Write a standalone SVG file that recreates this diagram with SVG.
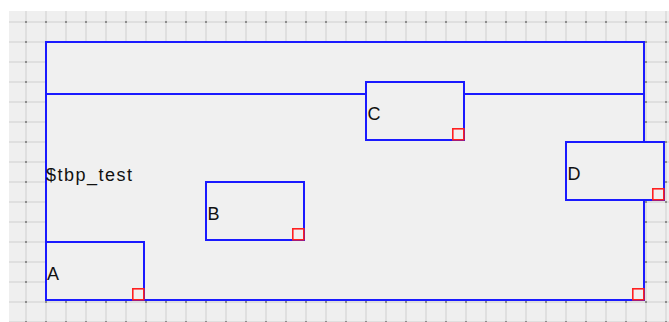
<svg xmlns="http://www.w3.org/2000/svg" width="669" height="322" viewBox="0 0 669 322">
  <defs>
    <pattern id="grid" patternUnits="userSpaceOnUse" x="16" y="12" width="20" height="20">
      <rect width="20" height="20" fill="#efefef"/>
      <line x1="10" y1="0" x2="10" y2="20" stroke="#dadada" stroke-width="1.5"/>
      <line x1="0" y1="10" x2="20" y2="10" stroke="#dadada" stroke-width="1.5"/>
      <rect x="9" y="9" width="2" height="2" fill="#8c8c8c"/>
    </pattern>
    <style>
      .frame { fill: #f0f0f0; stroke: #1a1aff; stroke-width: 2; }
      .wire { fill: none; stroke: #1a1aff; stroke-width: 2; }
      .port { fill: none; stroke: #ff2020; stroke-width: 1.6; }
      .label { font-family: "Liberation Sans", Arial, sans-serif; font-size: 18px; fill: #111; }
    </style>
  </defs>

  <!-- canvas -->
  <rect x="0" y="0" width="669" height="322" fill="#ffffff"/>
  <rect x="9" y="11" width="660" height="311" fill="url(#grid)"/>

  <!-- container -->
  <g id="tbp_test">
    <rect class="frame" x="46" y="42" width="598" height="258"/>
    <text class="label" x="46" y="181" textLength="86" lengthAdjust="spacing">$tbp_test</text>
    <rect class="port" x="632.8" y="288.8" width="11" height="11"/>
  </g>

  <!-- connectors -->
  <g id="connectors">
    <line class="wire" x1="46" y1="94" x2="366" y2="94"/>
    <line class="wire" x1="464" y1="94" x2="644" y2="94"/>
  </g>

  <g id="A">
    <rect class="frame" x="46" y="242" width="98" height="58"/>
    <text class="label" x="47" y="280">A</text>
    <rect class="port" x="132.8" y="288.8" width="11" height="11"/>
  </g>

  <g id="B">
    <rect class="frame" x="206" y="182" width="98" height="58"/>
    <text class="label" x="207.5" y="220">B</text>
    <rect class="port" x="292.8" y="228.8" width="11" height="11"/>
  </g>

  <g id="C">
    <rect class="frame" x="366" y="82" width="98" height="58"/>
    <text class="label" x="367.5" y="120">C</text>
    <rect class="port" x="452.8" y="128.8" width="11" height="11"/>
  </g>

  <g id="D">
    <rect class="frame" x="566" y="142" width="98" height="58"/>
    <text class="label" x="567.5" y="180">D</text>
    <rect class="port" x="652.8" y="188.8" width="11" height="11"/>
  </g>
</svg>
